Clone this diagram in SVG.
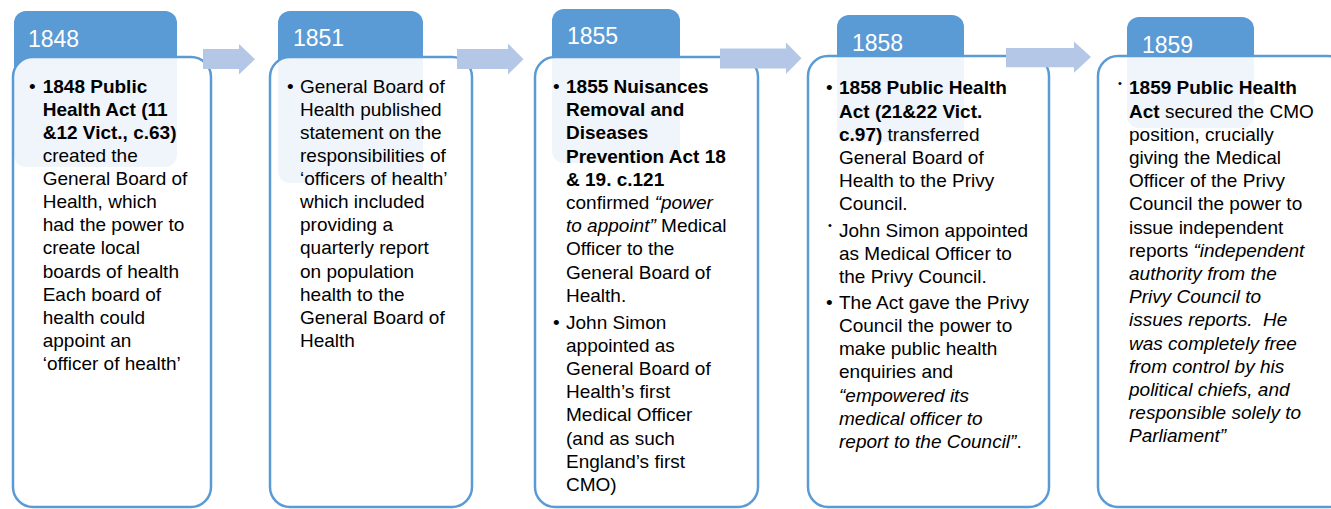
<svg xmlns="http://www.w3.org/2000/svg" width="1331" height="509" viewBox="0 0 1331 509">
<style>
.tab{fill:#5b9bd5}
.box{fill:#ffffff;fill-opacity:0.9;stroke:#5b9bd5;stroke-width:2.5}
.yr{font-family:'Liberation Sans',Arial,sans-serif;font-size:23px;fill:#ffffff}
.t{font-family:'Liberation Sans',Arial,sans-serif;font-size:19px;fill:#000000}
.b{font-weight:bold}
.i{font-style:italic}
.sb{font-family:'Liberation Sans',Arial,sans-serif;font-size:11px;fill:#000000}
.arrow{fill:#b4c7e7}
</style>
<rect width="1331" height="509" fill="#ffffff"/>

<g id="node-1848">
<rect class="tab" x="14" y="11" width="163" height="156" rx="12"/>
<rect class="box" x="13" y="57" width="198" height="450" rx="20"/>
<text class="yr" x="28" y="47">1848</text>
<text class="t" x="29" y="92.7">•</text>
<text class="t">
<tspan class="b" x="42.7" y="92.7">1848 Public</tspan>
<tspan class="b" x="42.7" y="115.8">Health Act (11</tspan>
<tspan class="b" x="42.7" y="138.9">&amp;12 Vict., c.63)</tspan>
<tspan x="42.7" y="162">created the</tspan>
<tspan x="42.7" y="185.1">General Board of</tspan>
<tspan x="42.7" y="208.2">Health, which</tspan>
<tspan x="42.7" y="231.3">had the power to</tspan>
<tspan x="42.7" y="254.4">create local</tspan>
<tspan x="42.7" y="277.5">boards of health</tspan>
<tspan x="42.7" y="300.6">Each board of</tspan>
<tspan x="42.7" y="323.7">health could</tspan>
<tspan x="42.7" y="346.8">appoint an</tspan>
<tspan x="42.7" y="369.9">‘officer of health’</tspan>
</text>
</g>

<g id="node-1851">
<rect class="tab" x="278" y="11" width="145" height="172" rx="12"/>
<rect class="box" x="270" y="57" width="202" height="450" rx="20"/>
<text class="yr" x="293" y="45.7">1851</text>
<text class="t" x="287" y="92.7">•</text>
<text class="t">
<tspan x="300" y="92.7">General Board of</tspan>
<tspan x="300" y="115.8">Health published</tspan>
<tspan x="300" y="138.9">statement on the</tspan>
<tspan x="300" y="162">responsibilities of</tspan>
<tspan x="300" y="185.1">‘officers of health’</tspan>
<tspan x="300" y="208.2">which included</tspan>
<tspan x="300" y="231.3">providing a</tspan>
<tspan x="300" y="254.4">quarterly report</tspan>
<tspan x="300" y="277.5">on population</tspan>
<tspan x="300" y="300.6">health to the</tspan>
<tspan x="300" y="323.7">General Board of</tspan>
<tspan x="300" y="346.8">Health</tspan>
</text>
</g>

<g id="node-1855">
<rect class="tab" x="552" y="9" width="128" height="154" rx="12"/>
<rect class="box" x="535" y="57" width="223" height="450" rx="20"/>
<text class="yr" x="567" y="44.3">1855</text>
<text class="t" x="553" y="93">•</text>
<text class="t" x="553" y="328.5">•</text>
<text class="t">
<tspan class="b" x="566" y="93">1855 Nuisances</tspan>
<tspan class="b" x="566" y="116.2">Removal and</tspan>
<tspan class="b" x="566" y="139.4">Diseases</tspan>
<tspan class="b" x="566" y="162.6">Prevention Act 18</tspan>
<tspan class="b" x="566" y="185.8">&amp; 19. c.121</tspan>
<tspan x="566" y="209">confirmed <tspan class="i">“power</tspan></tspan>
<tspan x="566" y="232.2"><tspan class="i">to appoint”</tspan> Medical</tspan>
<tspan x="566" y="255.4">Officer to the</tspan>
<tspan x="566" y="278.6">General Board of</tspan>
<tspan x="566" y="301.8">Health.</tspan>
<tspan x="566" y="328.5">John Simon</tspan>
<tspan x="566" y="351.7">appointed as</tspan>
<tspan x="566" y="374.9">General Board of</tspan>
<tspan x="566" y="398.1">Health’s first</tspan>
<tspan x="566" y="421.3">Medical Officer</tspan>
<tspan x="566" y="444.5">(and as such</tspan>
<tspan x="566" y="467.7">England’s first</tspan>
<tspan x="566" y="490.9">CMO)</tspan>
</text>
</g>

<g id="node-1858">
<rect class="tab" x="837" y="15" width="127" height="127" rx="12"/>
<rect class="box" x="808" y="56" width="241" height="451" rx="20"/>
<text class="yr" x="852" y="51">1858</text>
<text class="t" x="826" y="94.3">•</text>
<text class="sb" x="828" y="229">•</text>
<text class="t" x="826" y="308.8">•</text>
<text class="t">
<tspan class="b" x="839" y="94.3">1858 Public Health</tspan>
<tspan class="b" x="839" y="117.5">Act (21&amp;22 Vict.</tspan>
<tspan x="839" y="140.7"><tspan class="b">c.97)</tspan> transferred</tspan>
<tspan x="839" y="163.9">General Board of</tspan>
<tspan x="839" y="187.1">Health to the Privy</tspan>
<tspan x="839" y="210.3">Council.</tspan>
<tspan x="839" y="236.5">John Simon appointed</tspan>
<tspan x="839" y="259.7">as Medical Officer to</tspan>
<tspan x="839" y="282.9">the Privy Council.</tspan>
<tspan x="839" y="308.8">The Act gave the Privy</tspan>
<tspan x="839" y="332">Council the power to</tspan>
<tspan x="839" y="355.2">make public health</tspan>
<tspan x="839" y="378.4">enquiries and</tspan>
<tspan class="i" x="839" y="401.6">“empowered its</tspan>
<tspan class="i" x="839" y="424.8">medical officer to</tspan>
<tspan x="839" y="448"><tspan class="i">report to the Council”</tspan>.</tspan>
</text>
</g>

<g id="node-1859">
<rect class="tab" x="1127" y="17" width="127" height="111" rx="12"/>
<rect class="box" x="1098" y="56" width="250" height="451" rx="20"/>
<text class="yr" x="1142" y="52.7">1859</text>
<text class="sb" x="1118" y="87">•</text>
<text class="t">
<tspan class="b" x="1129" y="94.3">1859 Public Health</tspan>
<tspan x="1129" y="117.5"><tspan class="b">Act</tspan> secured the CMO</tspan>
<tspan x="1129" y="140.7">position, crucially</tspan>
<tspan x="1129" y="163.9">giving the Medical</tspan>
<tspan x="1129" y="187.1">Officer of the Privy</tspan>
<tspan x="1129" y="210.3">Council the power to</tspan>
<tspan x="1129" y="233.5">issue independent</tspan>
<tspan x="1129" y="256.7">reports <tspan class="i">“independent</tspan></tspan>
<tspan class="i" x="1129" y="279.9">authority from the</tspan>
<tspan class="i" x="1129" y="303.1">Privy Council to</tspan>
<tspan class="i" x="1129" y="326.3">issues reports.&#160; He</tspan>
<tspan class="i" x="1129" y="349.5">was completely free</tspan>
<tspan class="i" x="1129" y="372.7">from control by his</tspan>
<tspan class="i" x="1129" y="395.9">political chiefs, and</tspan>
<tspan class="i" x="1129" y="419.1">responsible solely to</tspan>
<tspan class="i" x="1129" y="442.3">Parliament”</tspan>
</text>
</g>

<g id="connectors">
<polygon class="arrow" points="203,49 239,49 239,44 255,59.3 239,74.5 239,69 203,69"/>
<polygon class="arrow" points="457,49 508,49 508,43.5 523.5,59.3 508,74.5 508,69 457,69"/>
<polygon class="arrow" points="720,48.5 786,48.5 786,42.5 801.5,58.3 786,74 786,68.5 720,68.5"/>
<polygon class="arrow" points="1006,48 1074,48 1074,41.5 1091,57 1074,72.7 1074,67.3 1006,67.3"/>
</g>
</svg>
